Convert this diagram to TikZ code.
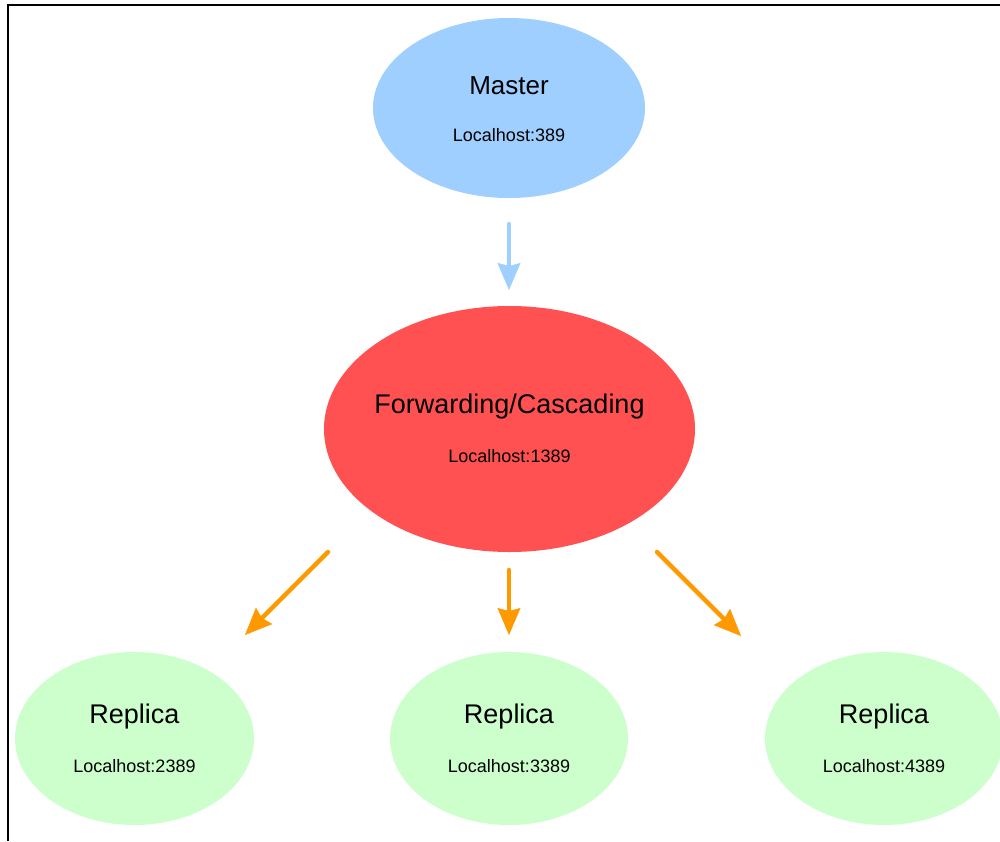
\documentclass[tikz,border=0pt]{standalone}
\usepackage{fontspec}
\setmainfont{Liberation Sans}
\usetikzlibrary{shapes.geometric,arrows.meta}
\definecolor{mblue}{HTML}{9FCFFF}
\definecolor{fred}{HTML}{FF5151}
\definecolor{rgreen}{HTML}{CCFFCC}
\definecolor{aorange}{HTML}{FF9900}
\tikzset{
  blob/.style={ellipse, draw=none, inner sep=0pt},
  title/.style={font=\fontsize{27}{32}\selectfont, inner sep=0pt},
  sub/.style={font=\fontsize{18}{22}\selectfont, inner sep=0pt},
  conn/.style={line width=4.5pt, line cap=round, -{Stealth[length=27pt 0 0, width=23pt 0 0, inset=3pt, line width=0.5pt, fill=#1]}, draw=#1},
}
\begin{document}
\begin{tikzpicture}[x=1pt, y=-1pt]
\useasboundingbox (0,0) rectangle (1000,841);
\begin{scope}
\clip (0,0) rectangle (1000,841);
\draw[line width=2pt] (7.5,841) -- (7.5,5) -- (1000,5);
\node[blob, fill=mblue, minimum width=272pt, minimum height=180pt] (m) at (509,108) {};
\node[blob, fill=fred, minimum width=371pt, minimum height=246pt] (f) at (509.5,429) {};
\node[blob, fill=rgreen, minimum width=239pt, minimum height=173pt] (r1) at (134.5,738.5) {};
\node[blob, fill=rgreen, minimum width=238pt, minimum height=173pt] (r2) at (509,738.5) {};
\node[blob, fill=rgreen, minimum width=238pt, minimum height=173pt] (r3) at (884,738.5) {};
\end{scope}
\node[title, font=\fontsize{26}{31}\selectfont] (mt) at (509,85.5) {Master};
\node[sub] (ms) at (509,135) {Localhost:389};
\node[title] (ft) at (509.5,406.5) {Forwarding/Cascading};
\node[sub] (fs) at (509.5,456) {Localhost:1389};
\node[title] (r1t) at (134.5,716.5) {Replica};
\node[sub] (r1s) at (134.5,766) {Localhost:2389};
\node[title] (r2t) at (509,716.5) {Replica};
\node[sub] (r2s) at (509,766) {Localhost:3389};
\node[title] (r3t) at (884,716.5) {Replica};
\node[sub] (r3s) at (884,766) {Localhost:4389};
\coordinate (a1s) at (509,224);
\coordinate (a1e) at (509,290);
\coordinate (l1s) at (328,552);
\coordinate (l1e) at (245,635);
\coordinate (l2s) at (509,570);
\coordinate (l2e) at (509,635);
\coordinate (l3s) at (657,552);
\coordinate (l3e) at (741,636);
\draw[conn=mblue] (a1s) -- (a1e);
\draw[conn=aorange] (l1s) -- (l1e);
\draw[conn=aorange] (l2s) -- (l2e);
\draw[conn=aorange] (l3s) -- (l3e);
\end{tikzpicture}
\end{document}
